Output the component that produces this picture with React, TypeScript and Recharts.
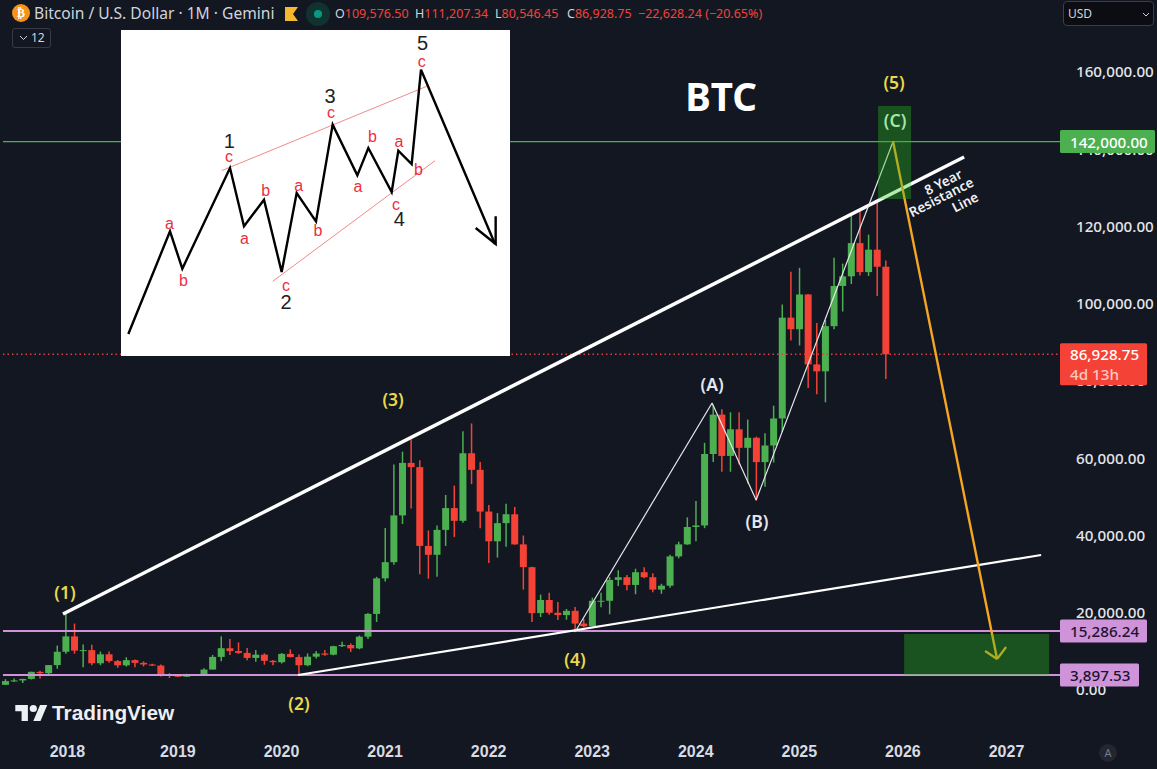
import React from 'react';
import { ComposedChart, Bar, Line, XAxis, YAxis, ReferenceLine, ReferenceArea, ReferenceDot } from 'recharts';

const BG = '#131722';
const UP = '#4caf50';
const DOWN = '#f44336';
const SANS = '"Noto Sans", sans-serif';

// Monthly candles, May 2017 .. Nov 2025
const opens = [1350,2300,2480,2870,4700,4340,6450,9900,13880,10200,10320,6920,9240,7490,6390,7730,7030,6610,6320,3990,3700,3440,3810,4100,5290,8570,10820,10080,9600,8300,9150,7560,7190,9350,8520,6410,8630,9450,9140,11350,11650,10780,13800,19700,28900,33100,45200,58800,57700,37300,35000,41460,47100,43800,61300,57000,46200,38500,43200,45500,37700,31800,19900,23300,20000,19400,20500,17200,16500,23100,23100,28500,29200,27200,30500,29200,26000,27000,34600,37700,42200,42600,61100,71300,60600,67500,62700,65300,59000,63300,70300,96400,93400,102400,84300,82500,94200,104600,107100,115700,108200,114000,109576.5];
const highs = [2800,3000,2900,4750,4980,6470,11500,19700,17200,11790,11700,9950,10000,7780,8480,7880,7400,6780,6570,4370,4070,4200,4140,5640,9080,13880,13190,12330,10900,10370,9500,7740,9580,10520,9190,9470,10070,10380,11440,12480,12080,14100,19920,29300,41950,58350,61700,64850,59500,41300,42600,50500,52900,67000,69000,59000,47900,45800,48200,47400,40000,31900,24700,25200,22800,21000,21500,18400,23900,25200,29200,31000,29800,31400,31800,30200,27500,35000,38400,44700,48900,64000,73800,72700,71900,71900,70000,65600,66500,73600,99800,108300,109300,102500,95000,95800,111900,110400,123200,124500,117900,126200,111207.34];
const lows = [1300,2100,1830,2700,2970,4100,5500,9400,9400,5920,6430,6430,7030,5750,6070,5880,6100,6200,3480,3130,3350,3400,3680,4080,5350,7450,9080,9350,7710,7300,6550,6440,6850,8450,3850,6150,8130,8890,8970,11120,9860,10540,13200,17600,28100,32400,43000,47000,30000,28800,29300,37300,39600,43300,53300,41900,32900,34300,37100,37600,26000,17600,18900,19500,18100,18200,15500,16300,16500,21400,19600,26900,25800,24800,28900,25300,24900,26500,34100,37600,38500,41900,59000,56500,56500,58400,53500,49000,52600,58900,66800,90500,89200,78200,76600,74500,93400,98000,105100,107300,107200,102000,80546.45];
const closes = [2300,2480,2870,4700,4340,6450,9900,13880,10200,10320,6920,9240,7490,6390,7730,7030,6610,6320,3990,3700,3440,3810,4100,5290,8570,10820,10080,9600,8300,9150,7560,7190,9350,8520,6410,8630,9450,9140,11350,11650,10780,13800,19700,28900,33100,45200,58800,57700,37300,35000,41460,47100,43800,61300,57000,46200,38500,43200,45500,37700,31800,19900,23300,20000,19400,20500,17200,16500,23100,23100,28500,29200,27200,30500,29200,26000,27000,34600,37700,42200,42600,61100,71300,60600,67500,62700,65300,59000,63300,70300,96400,93400,102400,84300,82500,94200,104600,107100,115700,108200,114000,109576.5,86928.75];
const candles = opens.map((o, i) => ({ i, o, h: highs[i], l: lows[i], c: closes[i] }));

const yearTicks = [7.2, 20, 32, 44, 56, 68, 80, 92, 104, 116];
const yearLabels = ['2018','2019','2020','2021','2022','2023','2024','2025','2026','2027'];
const priceTicks = [0,20000,40000,60000,80000,100000,120000,140000,160000];

const X_MIN = -0.614, X_MAX = 122.2;
const Y_MIN = -10356, Y_MAX = 178641;

const resistance = [[6.686,19676],[111.09,137994]];
const support = [[33.92,3883],[120.01,34951]];
const abc = [[66.01,15016],[81.89,74304],[86.99,49191],[102.86,142000]];
const forecast = [[102.86,142000],[114.91,8026]];
const arrowLeft = [[113.52,10097],[114.91,8026]];
const arrowRight = [[115.96,11133],[114.91,8026]];
const targetTop = [101.12,104.95,127120,151198];
const targetBottom = [104.14,120.94,3883,14498];

const waveLabels: [string, number, number, string, number, number][] = [
  ['(1)',6.92,25372,'#e9d94a',17.5,600],
  ['(2)',34.03,-3366,'#e9d94a',17.5,600],
  ['(3)',44.93,75340,'#e9d94a',17.5,600],
  ['(4)',66.01,8026,'#e9d94a',17.5,600],
  ['(5)',102.98,157411,'#e9d94a',17.5,600],
  ['(A)',81.89,79223,'#e6e8ee',17.5,600],
  ['(B)',87.10,43754,'#e6e8ee',17.5,600],
  ['(C)',103.09,147573,'#a8e6a8',17.5,600],
  ['BTC',82.93,153787,'#ffffff',38.5,700],
];
const resistanceText: [string, number, number][] = [
  ['8 Year',108.66,131521],
  ['Resistance',108.43,127638],
  ['Line',111.2,126344],
];

// Inset diagram, in its own 0..1170 picture units
const insetPath = [[25,918],[150,610],[187,722],[330,420],[372,595],[432,515],[485,732],[530,495],[588,580],[638,290],[712,442],[745,360],[815,492],[835,368],[875,408],[903,125],[1125,648]];
const insetHead = [[1127,565],[1127,648],[1067,600]];
const insetUpper = [[305,428],[920,175]];
const insetLower = [[458,760],[945,398]];
const insetBlack: [string, number, number][] = [['5',908,45],['3',630,203],['1',328,340],['2',498,822],['4',838,573]];
const insetRed: [string, number, number][] = [['c',905,100],['c',633,253],['c',327,385],['c',498,772],['c',828,530],['a',148,585],['b',190,757],['a',373,632],['b',437,487],['a',536,472],['b',594,608],['a',714,475],['b',757,325],['a',837,340],['b',895,425]];

const toRows = (pts: number[][]) => pts.map(([x, y]) => ({ x, y }));

const Candle = (props: any) => {
  const { x, y, width, height, payload } = props;
  const { o, h, l, c } = payload;
  const k = height / (h - l);
  const at = (v: number) => y + (h - v) * k;
  const color = c >= o ? UP : DOWN;
  const mid = x + width / 2;
  const top = at(Math.max(o, c));
  const bh = Math.max(at(Math.min(o, c)) - top, 1);
  return (
    <g>
      <line x1={mid} x2={mid} y1={y} y2={y + height} stroke={color} strokeWidth={1.5} />
      <rect x={mid - 3.5} y={top} width={7} height={bh} fill={color} />
    </g>
  );
};

const textShape = (t: string, color: string, size: number, weight: number, font: string, rotate = 0) => (p: any) => (
  <text x={p.cx} y={p.cy} fill={color} fontSize={size} fontWeight={weight} fontFamily={font}
    textAnchor="middle" dominantBaseline="central"
    transform={rotate ? `rotate(${rotate} ${p.cx} ${p.cy})` : undefined}>{t}</text>
);

const priceTag = (lines: string[], w: number, h: number, fill: string, color: string) => (p: any) => {
  const vb = p.viewBox;
  const left = vb.x + vb.width;
  const cy = vb.y;
  return (
    <g>
      <rect x={left} y={cy - (lines.length > 1 ? 11 : h / 2)} width={w} height={h} rx={1.5} fill={fill} />
      {lines.map((s, i) => (
        <text key={s} x={left + 10} y={cy + i * 20} dominantBaseline="central" fill={i ? '#ffc9c4' : color}
          fontSize={15.2} fontWeight={500} fontFamily={SANS}>{s}</text>
      ))}
    </g>
  );
};

const segs = (pts: number[][], stroke: string, w: number) =>
  pts.slice(1).map((p, i) => (
    <ReferenceLine key={`${stroke}-${p[0]}-${i}`} segment={[{ x: pts[i][0], y: pts[i][1] }, { x: p[0], y: p[1] }]}
      stroke={stroke} strokeWidth={w} ifOverflow="visible" />
  ));

const hline = (v: number, stroke: string, w: number, dash?: string) => (
  <ReferenceLine key={v} segment={[{ x: -0.27, y: v }, { x: X_MAX, y: v }]} stroke={stroke} strokeWidth={w}
    strokeDasharray={dash} ifOverflow="visible" />
);

const tag = (v: number, label: any) => (
  <ReferenceLine key={v} segment={[{ x: X_MAX - 1, y: v }, { x: X_MAX, y: v }]} stroke="none" ifOverflow="visible" label={label} />
);

const Inset = () => (
  <div style={{ position: 'absolute', left: 121, top: 30, width: 389, height: 326, background: '#fff' }}>
    <ComposedChart width={389} height={326} margin={{ top: 0, right: 0, bottom: 0, left: 0 }}>
      <XAxis type="number" dataKey="x" domain={[3, 1170]} hide allowDataOverflow />
      <YAxis type="number" domain={[6, 984]} reversed hide allowDataOverflow />
      <Line data={toRows(insetUpper)} dataKey="y" stroke="#f08a8a" strokeWidth={1} dot={false} isAnimationActive={false} />
      <Line data={toRows(insetLower)} dataKey="y" stroke="#f08a8a" strokeWidth={1} dot={false} isAnimationActive={false} />
      <Line data={toRows(insetPath)} dataKey="y" stroke="#000" strokeWidth={2.4} dot={false} isAnimationActive={false} />
      <Line data={toRows(insetHead)} dataKey="y" stroke="#000" strokeWidth={2.4} dot={false} isAnimationActive={false} />
      {insetBlack.map(([t, x, y]) => (
        <ReferenceDot key={`k${t}`} x={x} y={y} r={0} ifOverflow="visible" shape={textShape(t, '#222', 20, 400, '"Liberation Sans"')} />
      ))}
      {insetRed.map(([t, x, y]) => (
        <ReferenceDot key={`r${t}${x}`} x={x} y={y} r={0} ifOverflow="visible" shape={textShape(t, '#ec2f3f', 16, 400, '"Liberation Sans"')} />
      ))}
    </ComposedChart>
  </div>
);

const abs = (left: number, top: number, extra: any = {}) => ({ position: 'absolute' as const, left, top, whiteSpace: 'nowrap' as const, fontFamily: SANS, ...extra });

const Ohlc = ({ k, v, x }: { k: string; v: string; x: number }) => (
  <span style={abs(x, 5, { fontSize: 12.5, lineHeight: '18px', color: DOWN })}>
    <span style={{ color: '#d1d4dc' }}>{k}</span>{v}
  </span>
);

const Header = () => (
  <>
    <div style={abs(12, 4, { width: 18, height: 18, borderRadius: 9, background: '#f7931a', color: '#fff', fontSize: 12, fontWeight: 700, textAlign: 'center', lineHeight: '18px', fontFamily: '"DejaVu Sans"' })}>₿</div>
    <span style={abs(34, 2, { fontSize: 15.6, lineHeight: '22px', color: '#d1d4dc' })}>Bitcoin / U.S. Dollar · 1M · Gemini</span>
    <svg style={{ position: 'absolute', left: 285, top: 7 }} width={14} height={14}><path d="M0 0H13L8 7L13 14H0Z" fill="#f5b82e" /></svg>
    <div style={abs(306, 2, { width: 24, height: 24, borderRadius: 12, background: '#10332f' })} />
    <div style={abs(314, 10, { width: 8, height: 8, borderRadius: 4, background: '#089981' })} />
    <Ohlc k="O" v="109,576.50" x={335} />
    <Ohlc k="H" v="111,207.34" x={415} />
    <Ohlc k="L" v="80,546.45" x={495} />
    <Ohlc k="C" v="86,928.75" x={567} />
    <span style={abs(638, 5, { fontSize: 12.5, lineHeight: '18px', color: DOWN })}>−22,628.24 (−20.65%)</span>
    <div style={abs(12, 28, { width: 37, height: 18, border: '1px solid #363a45', borderRadius: 3, color: '#d1d4dc', fontSize: 12, lineHeight: '18px' })}>
      <svg style={{ position: 'absolute', left: 6, top: 6 }} width={9} height={6}><path d="M1 1L4.5 4.5L8 1" stroke="#d1d4dc" fill="none" /></svg>
      <span style={{ position: 'absolute', left: 18 }}>12</span>
    </div>
    <div style={abs(1063, 1, { width: 89, height: 23, border: '1px solid #3a3e48', borderRadius: 4, background: '#0b0d12', color: '#d1d4dc', fontSize: 12, lineHeight: '23px' })}>
      <span style={{ position: 'absolute', left: 4 }}>USD</span>
      <svg style={{ position: 'absolute', left: 78, top: 10 }} width={8} height={5}><path d="M1 1L4 4L7 1" stroke="#d1d4dc" fill="none" /></svg>
    </div>
    <svg style={{ position: 'absolute', left: 15, top: 704 }} width={33} height={18} viewBox="0 3 36 20"><path d="M14 22H7V11H0V4h14v18zM28 22h-8l7.5-18h8L28 22z" fill="#eceff4" /><circle cx="20" cy="8" r="4" fill="#eceff4" /></svg>
    <span style={abs(52, 699, { fontSize: 20.8, lineHeight: '28px', fontWeight: 700, color: '#eceff4', fontFamily: '"Liberation Sans"' })}>TradingView</span>
    <div style={abs(1099, 744, { width: 18, height: 18, borderRadius: 9, background: '#23262f', color: '#787b86', fontSize: 11, lineHeight: '18px', textAlign: 'center' })}>A</div>
  </>
);

export default function App() {
  return (
    <div style={{ position: 'absolute', left: 0, top: 0, width: 1157, height: 769, background: BG, overflow: 'hidden' }}>
      <ComposedChart width={1157} height={769} data={candles} margin={{ top: 0, right: 0, bottom: 0, left: 0 }}>
        <XAxis type="number" dataKey="i" domain={[X_MIN, X_MAX]} ticks={yearTicks} interval={0} allowDataOverflow height={39}
          tickFormatter={(v: number) => yearLabels[yearTicks.indexOf(v)]} axisLine={false} tickLine={false} tickMargin={10}
          tick={{ fill: '#d8dbe2', fontSize: 16, fontWeight: 700, fontFamily: '"Liberation Sans"' }} />
        <YAxis type="number" orientation="right" width={97} domain={[Y_MIN, Y_MAX]} ticks={priceTicks} interval={0} allowDataOverflow
          tickFormatter={(v: number) => v.toLocaleString('en-US', { minimumFractionDigits: 2, maximumFractionDigits: 2 })}
          axisLine={false} tickLine={false} tickMargin={10}
          tick={{ fill: '#e4e6eb', fontSize: 15.2, fontWeight: 500, fontFamily: SANS, textAnchor: 'start' }} />

        {hline(86928.75, '#e0403c', 1.5, '1.5 3')}
        {hline(142000, UP, 1.3)}
        {hline(15286.24, '#ce93d8', 2)}
        {hline(3897.53, '#ce93d8', 2)}

        <Bar dataKey={(d: any) => [d.l, d.h]} barSize={7} shape={Candle} isAnimationActive={false} />

        {segs(resistance, '#ffffff', 3.5)}
        {segs(support, '#ffffff', 2.2)}
        {segs(abc, '#e8e8ec', 1.2)}
        {segs(forecast, '#f5a623', 2.4)}
        {segs(arrowLeft, '#f5a623', 2.2)}
        {segs(arrowRight, '#f5a623', 2.2)}
      </ComposedChart>

      <div style={{ position: 'absolute', left: 0, top: 0 }}>
        <ComposedChart width={1157} height={769} data={candles} margin={{ top: 0, right: 97, bottom: 39, left: 0 }}>
          <XAxis type="number" dataKey="i" domain={[X_MIN, X_MAX]} hide allowDataOverflow />
          <YAxis type="number" domain={[Y_MIN, Y_MAX]} hide allowDataOverflow />
          <Bar dataKey="c" barSize={1} fill="none" shape={() => <g />} isAnimationActive={false} />
          <ReferenceArea x1={targetTop[0]} x2={targetTop[1]} y1={targetTop[2]} y2={targetTop[3]} fill="#27c01d" fillOpacity={0.35} stroke="none" ifOverflow="visible" />
          <ReferenceArea x1={targetBottom[0]} x2={targetBottom[1]} y1={targetBottom[2]} y2={targetBottom[3]} fill="#27c01d" fillOpacity={0.35} stroke="none" ifOverflow="visible" />
          {tag(86928.75, priceTag(['86,928.75', '4d 13h'], 87, 42, DOWN, '#fff'))}
          {tag(142000, priceTag(['142,000.00'], 95, 23, UP, '#fff'))}
          {tag(15286.24, priceTag(['15,286.24'], 87, 23, '#ce93d8', '#1b1230'))}
          {tag(3897.53, priceTag(['3,897.53'], 79, 23, '#ce93d8', '#1b1230'))}
          {waveLabels.map(([t, x, y, color, size, weight]) => (
            <ReferenceDot key={t} x={x} y={y} r={0} ifOverflow="visible" shape={textShape(t, color, size, weight, SANS)} />
          ))}
          {resistanceText.map(([t, x, y]) => (
            <ReferenceDot key={t} x={x} y={y} r={0} ifOverflow="visible" shape={textShape(t, '#f0f1f4', 13.5, 600, SANS, -27)} />
          ))}
        </ComposedChart>
      </div>
      <Inset />
      <Header />
    </div>
  );
}
